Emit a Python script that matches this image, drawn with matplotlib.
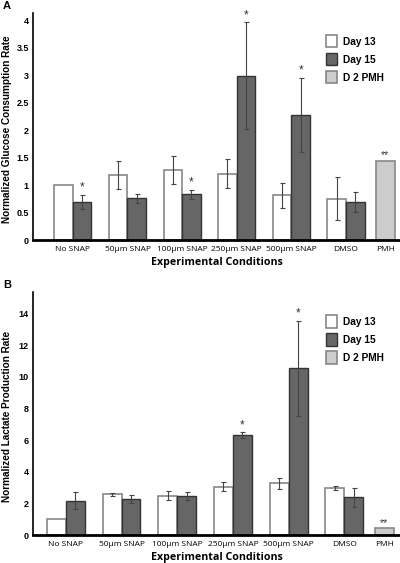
import matplotlib
matplotlib.use("Agg")
import matplotlib.pyplot as plt

plt.rcParams['font.family'] = ['Liberation Sans', 'DejaVu Sans']

# categories and positions of the groups on the x axis
conditions = ['No SNAP', '50\u00b5m SNAP', '100\u00b5m SNAP', '250\u00b5m SNAP',
              '500\u00b5m SNAP', 'DMSO', 'PMH']
group_x = [0, 1, 2, 3, 4, 5]
pmh_x = 5.72

# panel A - glucose consumption
glu_d13 = [1.0, 1.18, 1.27, 1.21, 0.81, 0.75]
glu_d13_err = [0.0, 0.26, 0.26, 0.26, 0.22, 0.39]
glu_d15 = [0.69, 0.76, 0.83, 2.99, 2.28, 0.69]
glu_d15_err = [0.13, 0.08, 0.08, 0.97, 0.67, 0.18]
glu_pmh = 1.44
glu_stars = ['*', '', '*', '*', '*', '']

# panel B - lactate production
lac_d13 = [1.0, 2.57, 2.48, 3.05, 3.28, 2.97]
lac_d13_err = [0.0, 0.1, 0.27, 0.3, 0.35, 0.1]
lac_d15 = [2.17, 2.29, 2.46, 6.3, 10.55, 2.38]
lac_d15_err = [0.55, 0.25, 0.23, 0.2, 3.0, 0.6]
lac_pmh = 0.42
lac_stars = ['', '', '', '*', '*', '']

W = 0.34
DARK = '#666666'
LIGHT = '#cccccc'


def panel(ax, d13, e13, d15, e15, pmh, stars, yticks, ylabels, ylim, xlim,
          ylabel, star_gap, letter):
    x13 = [x - W / 2 for x in group_x]
    x15 = [x + W / 2 for x in group_x]
    ekw = dict(ecolor='#444444', elinewidth=0.8, capsize=1.8, capthick=0.8)
    ax.bar(x13, d13, W, color='white', edgecolor='#888888', linewidth=1.2,
           yerr=[e if e > 0 else float('nan') for e in e13], error_kw=ekw,
           label='Day 13')
    ax.bar(x15, d15, W, color=DARK, edgecolor='#333333', linewidth=1.0,
           yerr=e15, error_kw=ekw, label='Day 15')
    ax.bar([pmh_x], [pmh], W, color=LIGHT, edgecolor='#888888', linewidth=1.2,
           label='D 2 PMH')
    for x, v, e, s in zip(x15, d15, e15, stars):
        if s:
            ax.text(x, v + e + star_gap, s, ha='center', va='bottom',
                    fontsize=8.5, color='#333333')
    ax.text(pmh_x, pmh + star_gap, '**', ha='center', va='bottom',
            fontsize=7.5, color='#333333')

    ax.set_xlim(*xlim)
    ax.set_ylim(*ylim)
    ax.set_yticks(yticks)
    ax.set_yticklabels(ylabels, fontsize=6.5, fontweight='bold')
    ax.set_xticks(group_x + [pmh_x])
    ax.set_xticklabels(conditions, fontsize=6, family=['Open Sans', 'DejaVu Sans'])
    ax.tick_params(axis='both', length=0, pad=3)
    ax.tick_params(axis='x', pad=4)
    for side in ['top', 'right']:
        ax.spines[side].set_visible(False)
    ax.spines['left'].set_linewidth(1.2)
    ax.spines['bottom'].set_linewidth(2.0)
    ax.set_ylabel(ylabel, fontsize=7.2, fontweight='bold')
    ax.yaxis.set_label_coords(-0.057, 0.49)
    ax.set_xlabel('Experimental Conditions', fontsize=7.7, fontweight='bold',
                  family=['Open Sans', 'DejaVu Sans'], labelpad=3)
    ax.legend(loc='upper left', bbox_to_anchor=(0.785, 0.925), frameon=False,
              prop={'weight': 'bold', 'size': 7.3},
              handlelength=1.1, handleheight=1.5, labelspacing=0.55,
              handletextpad=0.6, borderpad=0)
    ax.figure.text(0.008, ax.get_position().y1 + 0.012, letter,
                   fontsize=8, fontweight='bold', va='center')


fig = plt.figure(figsize=(4.0, 5.63), dpi=100)
axA = fig.add_axes([0.0825, 0.5737, 0.9175, 0.4032])
axB = fig.add_axes([0.0825, 0.0497, 0.9175, 0.4316])

panel(axA, glu_d13, glu_d13_err, glu_d15, glu_d15_err, glu_pmh, glu_stars,
      [0, 0.5, 1, 1.5, 2, 2.5, 3, 3.5, 4],
      ['0', '0.5', '1', '1.5', '2', '2.5', '3', '3.5', '4'],
      (0, 4.13), (-0.73, 5.99), 'Normalized Glucose Consumption Rate', 0.02, 'A')
panel(axB, lac_d13, lac_d13_err, lac_d15, lac_d15_err, lac_pmh, lac_stars,
      [0, 2, 4, 6, 8, 10, 12, 14],
      ['0', '2', '4', '6', '8', '10', '12', '14'],
      (0, 15.35), (-0.59, 6.0), 'Normalized Lactate Production Rate', 0.05, 'B')

fig.savefig('out.png', dpi=100)
